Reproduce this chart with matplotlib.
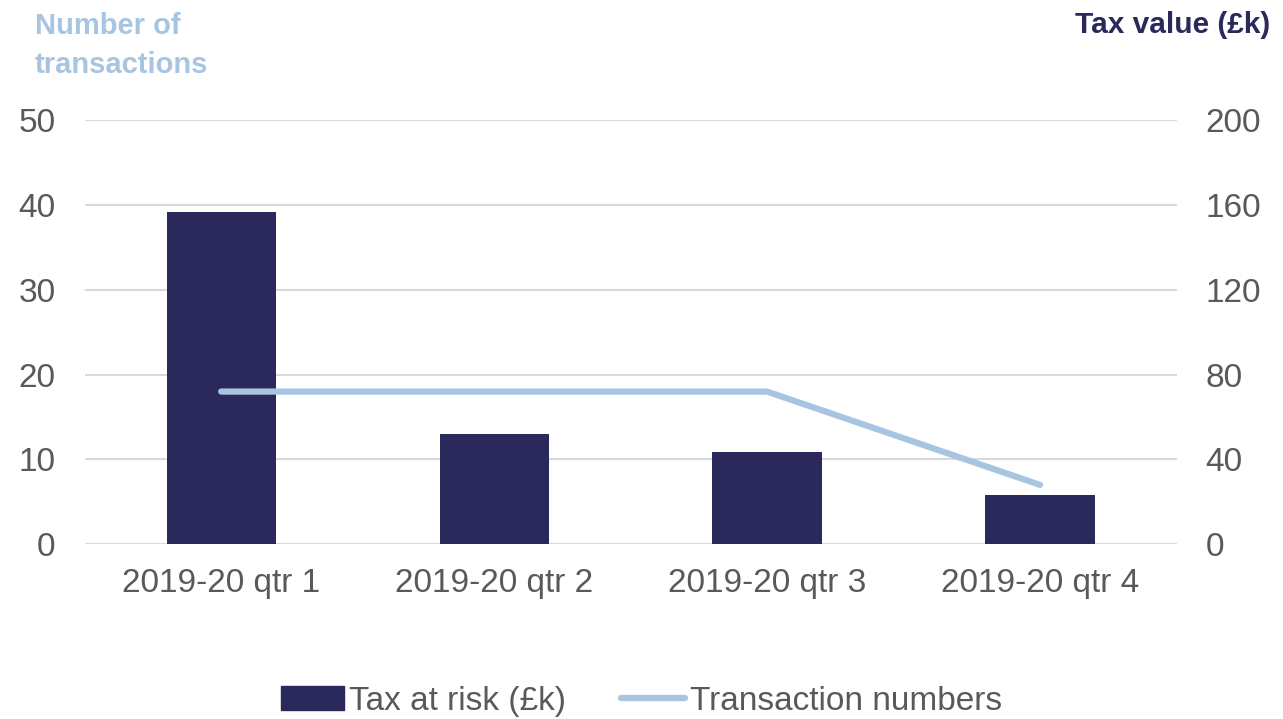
import numpy as np
import matplotlib.pyplot as plt
from matplotlib.lines import Line2D
from matplotlib.patches import Patch

plt.rcParams['font.family'] = ['Liberation Sans', 'DejaVu Sans']

# données
quarters = ['2019-20 qtr 1', '2019-20 qtr 2', '2019-20 qtr 3', '2019-20 qtr 4']
tax_at_risk = [156.8, 51.8, 43.5, 23.0]     # axe de droite (£k)
transactions = [18, 18, 18, 7]              # axe de gauche

bar_color = '#2B295C'
line_color = '#A7C5E1'
text_color = '#595959'
grid_color = '#D9D9D9'

fig = plt.figure(figsize=(12.83, 7.19), dpi=100)
ax = fig.add_axes([0.066, 0.243, 0.851, 0.59])
ax2 = ax.twinx()

x = np.arange(len(quarters))

# barres sur l'axe de droite, courbe sur l'axe de gauche
ax2.bar(x, tax_at_risk, width=0.4, color=bar_color, zorder=2)
ax.set_zorder(ax2.get_zorder() + 1)
ax.patch.set_visible(False)
ax.plot(x, transactions, color=line_color, lw=4.5, solid_capstyle='round', zorder=3)

ax.set_xlim(-0.5, 3.5)
ax.set_ylim(0, 50)
ax2.set_ylim(0, 200)
ax.set_yticks(np.arange(0, 51, 10))
ax2.set_yticks(np.arange(0, 201, 40))

ax2.grid(axis='y', color=grid_color, lw=1.5, zorder=0)
ax2.set_axisbelow(True)

for a in (ax, ax2):
    for s in a.spines.values():
        s.set_visible(False)
    a.tick_params(length=0, labelsize=24, colors=text_color)

ax.set_xticks(x)
ax.set_xticklabels(quarters)
ax.tick_params(axis='x', pad=17)
ax.tick_params(axis='y', pad=21)
ax2.tick_params(axis='y', pad=21)

fig.text(0.027, 0.983, 'Number of\ntransactions', color=line_color, fontsize=21,
         fontweight='bold', ha='left', va='top', linespacing=1.5)
fig.text(0.99, 0.965, 'Tax value (£k)', color=bar_color, fontsize=21.5,
         fontweight='bold', ha='right', va='center')

handles = [Patch(color=bar_color, label='Tax at risk (£k)'),
           Line2D([0], [0], color=line_color, lw=4.5, solid_capstyle='round',
                  label='Transaction numbers')]
fig.legend(handles=handles, loc='center', bbox_to_anchor=(0.5, 0.025), ncol=2,
           frameon=False, fontsize=24, labelcolor=text_color, handlelength=1.9,
           handletextpad=0.15, columnspacing=1.65)

fig.savefig('out.png', dpi=100)
